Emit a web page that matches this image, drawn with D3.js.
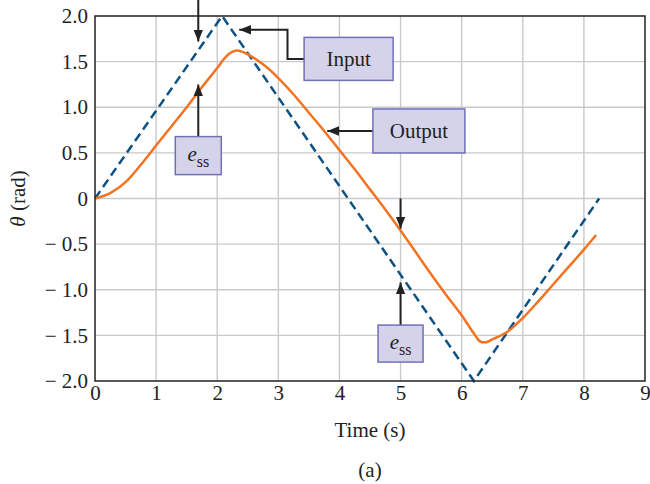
<!DOCTYPE html>
<html>
<head>
<meta charset="utf-8">
<script src="https://cdn.jsdelivr.net/npm/d3@7"></script>
<style>
  body { margin: 0; background: #fff; }
  text { font-family: "Liberation Serif", "DejaVu Serif", serif; fill: #222; }
</style>
</head>
<body>
<svg id="chart" width="650" height="484"></svg>
<script>
// input (triangle wave) breakpoints
var inputT = [0, 2.08, 6.2, 8.25];
var inputVals = [0, 2, -2, 0];

// output response
var outT = [0, 0.25, 0.5, 0.75, 1, 1.25, 1.5, 1.75, 2, 2.1, 2.2, 2.3, 2.4, 2.5, 2.75, 3, 3.25, 3.5, 3.75, 4, 4.25, 4.5, 4.75, 5, 5.25, 5.5, 5.75, 6, 6.1, 6.2, 6.3, 6.4, 6.5, 6.75, 7, 7.25, 7.5, 7.75, 8, 8.2];
var outVals = [0, 0.06, 0.18, 0.37, 0.58, 0.79, 1.0, 1.22, 1.43, 1.52, 1.59, 1.62, 1.61, 1.58, 1.47, 1.32, 1.14, 0.94, 0.74, 0.53, 0.32, 0.1, -0.12, -0.35, -0.59, -0.83, -1.06, -1.28, -1.38, -1.48, -1.565, -1.575, -1.545, -1.46, -1.31, -1.13, -0.94, -0.75, -0.56, -0.4];

var xTicks = [0, 1, 2, 3, 4, 5, 6, 7, 8, 9];
var yTicks = [2, 1.5, 1, 0.5, 0, -0.5, -1, -1.5, -2];
var yTickLabels = ["2.0", "1.5", "1.0", "0.5", "0", "\u2212 0.5", "\u2212 1.0", "\u2212 1.5", "\u2212 2.0"];

// annotation boxes (centre in data units)
var boxLabels = ["Input", "Output", "ess", "ess"];
var boxT = [4.15, 5.3, 1.69, 5.0];
var boxV = [1.53, 0.74, 0.47, -1.59];
var boxW = [89, 92, 46, 45];
var boxH = [43, 44, 38, 37];

// arrows as polylines in data units, head at last point
var arrows = [
  [[3.46, 1.53], [3.15, 1.53], [3.15, 1.85], [2.36, 1.85]],
  [[4.57, 0.74], [3.8, 0.74]],
  [[1.69, 0.68], [1.69, 1.25]],
  [[1.69, 2.2], [1.69, 1.72]],
  [[5.0, -1.39], [5.0, -0.92]],
  [[5.0, 0.0], [5.0, -0.33]]
];

var svg = d3.select("#chart");
var x = d3.scaleLinear().domain([0, 9]).range([95, 645]);
var y = d3.scaleLinear().domain([-2, 2]).range([381, 16]);

var grid = svg.append("g");
grid.selectAll("line.vg")
  .data(xTicks.slice(1, -1))
  .enter().append("line")
  .attr("x1", d => x(d)).attr("x2", d => x(d))
  .attr("y1", y(2)).attr("y2", y(-2))
  .attr("stroke", "#c9c9c9").attr("stroke-width", 1.4);
grid.selectAll("line.hg")
  .data(yTicks.slice(1, -1))
  .enter().append("line")
  .attr("x1", x(0)).attr("x2", x(9))
  .attr("y1", d => y(d)).attr("y2", d => y(d))
  .attr("stroke", "#c9c9c9").attr("stroke-width", 1.4);

// input dashed
var line = d3.line().x(d => x(d[0])).y(d => y(d[1]));
svg.append("path")
  .datum(inputT.map((t, i) => [t, inputVals[i]]))
  .attr("d", line)
  .attr("fill", "none")
  .attr("stroke", "#0d5282")
  .attr("stroke-width", 2.5)
  .attr("stroke-dasharray", "9,5");

// output curve
svg.append("path")
  .datum(outT.map((t, i) => [t, outVals[i]]))
  .attr("d", d3.line().curve(d3.curveCatmullRom.alpha(0.5)).x(d => x(d[0])).y(d => y(d[1])))
  .attr("fill", "none")
  .attr("stroke", "#f47321")
  .attr("stroke-width", 2.5);

// frame
svg.append("rect")
  .attr("x", x(0)).attr("y", y(2))
  .attr("width", x(9) - x(0)).attr("height", y(-2) - y(2))
  .attr("fill", "none").attr("stroke", "#222").attr("stroke-width", 1.5);

// axes
var xAxis = svg.append("g")
  .attr("transform", "translate(0," + y(-2) + ")")
  .call(d3.axisBottom(x).tickValues(xTicks).tickSize(0).tickPadding(4).tickFormat(d3.format("d")));
var yAxis = svg.append("g")
  .attr("transform", "translate(" + x(0) + ",0)")
  .call(d3.axisLeft(y).tickValues(yTicks).tickSize(0).tickPadding(7)
    .tickFormat((d, i) => yTickLabels[i]));
[xAxis, yAxis].forEach(function(a) {
  a.select(".domain").remove();
  a.selectAll("text")
    .attr("font-family", "Liberation Serif")
    .attr("font-size", 21)
    .attr("fill", "#222");
});

// axis titles
svg.append("text")
  .attr("x", 370).attr("y", 437)
  .attr("text-anchor", "middle").attr("font-size", 21)
  .text("Time (s)");
svg.append("text")
  .attr("x", 370).attr("y", 477)
  .attr("text-anchor", "middle").attr("font-size", 21)
  .text("(a)");
var yl = svg.append("text")
  .attr("transform", "translate(25," + y(0) + ") rotate(-90)")
  .attr("text-anchor", "middle").attr("font-size", 21);
yl.append("tspan").attr("font-style", "italic").text("\u03b8");
yl.append("tspan").text(" (rad)");

// arrowhead marker
svg.append("defs").append("marker")
  .attr("id", "head")
  .attr("viewBox", "0 0 10 10")
  .attr("refX", 10).attr("refY", 5)
  .attr("markerWidth", 12).attr("markerHeight", 12)
  .attr("markerUnits", "userSpaceOnUse")
  .attr("orient", "auto")
  .append("path").attr("d", "M0,1 L10,5 L0,9 Z").attr("fill", "#222");

svg.selectAll("path.arrow")
  .data(arrows)
  .enter().append("path")
  .attr("class", "arrow")
  .attr("d", line)
  .attr("fill", "none")
  .attr("stroke", "#222")
  .attr("stroke-width", 2)
  .attr("marker-end", "url(#head)");

// boxes
var boxes = svg.selectAll("g.box")
  .data(boxLabels)
  .enter().append("g")
  .attr("class", "box")
  .attr("transform", (d, i) => "translate(" + x(boxT[i]) + "," + y(boxV[i]) + ")");
boxes.append("rect")
  .attr("x", (d, i) => -boxW[i] / 2).attr("y", (d, i) => -boxH[i] / 2)
  .attr("width", (d, i) => boxW[i]).attr("height", (d, i) => boxH[i])
  .attr("fill", "#d5d3ea").attr("stroke", "#7070b8").attr("stroke-width", 1.5);
boxes.each(function(d) {
  var t = d3.select(this).append("text")
    .attr("text-anchor", "middle").attr("y", 7).attr("font-size", 21);
  if (d === "ess") {
    t.attr("y", 5);
    t.append("tspan").attr("font-style", "italic").text("e");
    t.append("tspan").attr("font-size", 16).attr("dy", 6).text("ss");
  } else {
    t.text(d);
  }
});
</script>
</body>
</html>
